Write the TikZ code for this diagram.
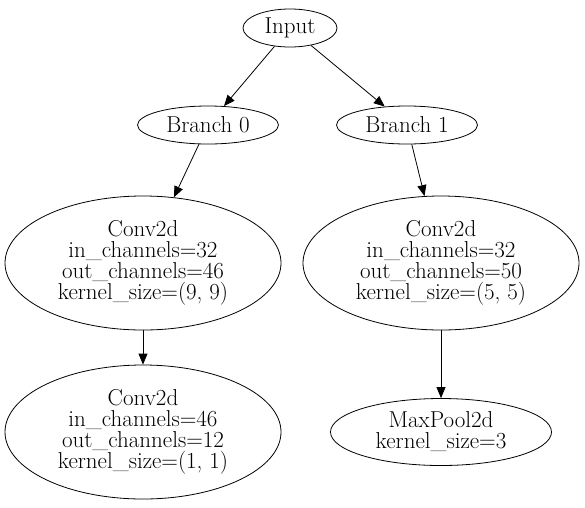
\documentclass[tikz,border=0pt]{standalone}
\usetikzlibrary{positioning,calc,shapes.geometric,arrows.meta}

\tikzset{
    layer/.style={ellipse, draw, black, line width=0.8pt, inner sep=0pt, align=center,
        font=\fontsize{23}{21}\selectfont},
    small/.style={layer, minimum width=94pt, minimum height=38pt},
    branch/.style={layer, minimum width=141pt, minimum height=38pt},
    big/.style={layer, minimum width=276pt, minimum height=134pt},
    edge/.style={-{Triangle[length=11pt,width=9pt]}, line width=0.8pt}
}

\begin{document}
\begin{tikzpicture}[x=1pt,y=-1pt]
            % page
            \useasboundingbox (0,0) rectangle (585,507);

            % nodes
            \node[small] (input) at (290, 28) {Input};
            \node[branch] (branchA) at (208, 125) {Branch 0};
            \node[branch] (branchB) at (407, 125) {Branch 1};

            \node[big] (convA) at (143, 263) {Conv2d\\in\_channels=32\\out\_channels=46\\kernel\_size=(9, 9)};
            \node[big] (convB) at (441, 263) {Conv2d\\in\_channels=32\\out\_channels=50\\kernel\_size=(5, 5)};

            \node[big] (convC) at (143, 432) {Conv2d\\in\_channels=46\\out\_channels=12\\kernel\_size=(1, 1)};
            \node[layer, minimum width=221pt, minimum height=67pt] (pool) at (441, 432) {MaxPool2d\\kernel\_size=3};

            % edges
            \draw[edge] (input) -- (branchA);
            \draw[edge] (input) -- (branchB);
            \draw[edge] (branchA) -- (convA);
            \draw[edge] (branchB) -- (convB);
            \draw[edge] (convA) -- (convC);
            \draw[edge] (convB) -- (pool);
        \end{tikzpicture}
\end{document}
